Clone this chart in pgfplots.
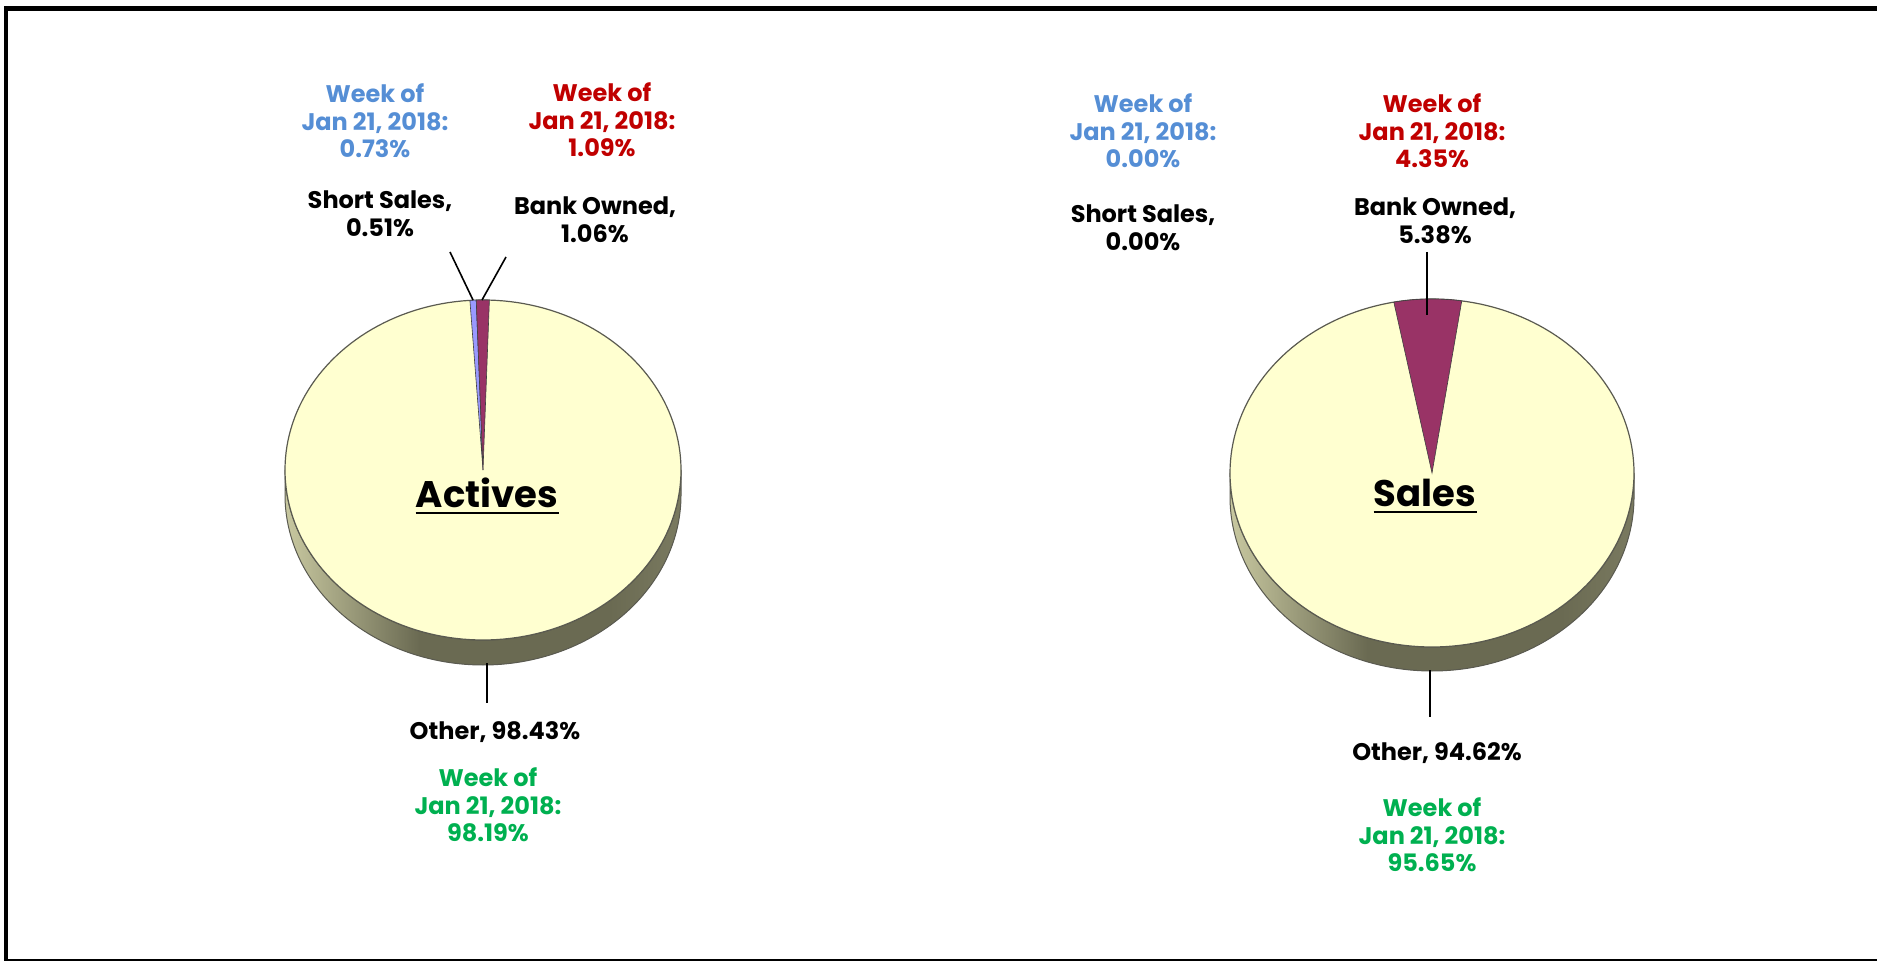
\documentclass[border=0pt]{standalone}
\usepackage{pgfplots}
\usepackage{pgfplotstable}
\pgfplotsset{compat=1.18}
\usepackage{fontspec}
\setmainfont{Poppins}
\definecolor{wkblue}{RGB}{85,142,213}
\definecolor{wkred}{RGB}{192,0,0}
\definecolor{wkgreen}{RGB}{0,176,80}
\definecolor{ssfill}{RGB}{153,153,255}
\definecolor{bofill}{RGB}{153,51,102}
\definecolor{topY}{RGB}{255,255,208}
\definecolor{sideL}{RGB}{200,200,160}
\definecolor{sideM}{RGB}{106,106,82}
\definecolor{sideR}{RGB}{122,122,96}
\definecolor{rim}{RGB}{90,90,80}
\pgfdeclarehorizontalshading{pieside}{100bp}{color(0bp)=(sideL); color(25bp)=(sideL); color(42bp)=(sideM); color(66bp)=(sideM); color(75bp)=(sideR); color(100bp)=(sideR)}

\pgfplotstableread{
cat value
ShortSales 0.51
BankOwned 1.06
Other 98.43
}\activestab
\pgfplotstableread{
cat value
ShortSales 0.00
BankOwned 5.38
Other 94.62
}\salestab

\begin{document}%
\begin{tikzpicture}
\pgfplotstablegetelem{0}{value}\of\activestab \let\aSS\pgfplotsretval
\pgfplotstablegetelem{1}{value}\of\activestab \let\aBO\pgfplotsretval
\pgfplotstablegetelem{0}{value}\of\salestab \let\sSS\pgfplotsretval
\pgfplotstablegetelem{1}{value}\of\salestab \let\sBO\pgfplotsretval
% start angles (clockwise from 12 o'clock)
\pgfmathsetmacro{\aA}{-3.8}
\pgfmathsetmacro{\aB}{\aA+\aSS*3.6}
\pgfmathsetmacro{\aC}{\aB+\aBO*3.6}
\pgfmathsetmacro{\sA}{-10.9}
\pgfmathsetmacro{\sB}{\sA+\sSS*3.6}
\pgfmathsetmacro{\sC}{\sB+\sBO*3.6}
\begin{axis}[width=938.5pt,height=480.5pt,scale only axis,
  xmin=0,xmax=1877,ymin=0,ymax=961,y dir=reverse,
  hide axis, xtick=\empty, ytick=\empty, clip=false]

% frame
\draw[line width=2.2pt] (axis cs:6.2,961) -- (axis cs:6.2,8.5) -- (axis cs:1877,8.5);
\draw[line width=1pt] (axis cs:4,959.8) -- (axis cs:1877,959.8);

% ---------- Actives pie ----------
\addplot[shading=pieside, draw=rim, line width=0.5pt,
  domain=90:450, samples=361, variable=\t]
  ({483+198*sin(\t)},{470+170*abs(cos(\t))+25*(\t>270.5)}) -- cycle;
\addplot[fill=topY, draw=rim, line width=0.6pt, domain=0:360, samples=181, variable=\t]
  ({483+198*sin(\t)},{470-170*cos(\t)}) -- cycle;
\addplot[fill=ssfill, draw=black!75, line width=0.3pt, domain=\aA:\aB, samples=4, variable=\t]
  ({483+198*sin(\t)},{470-170*cos(\t)}) -- (axis cs:483,470) -- cycle;
\addplot[fill=bofill, draw=black!75, line width=0.3pt, domain=\aB:\aC, samples=5, variable=\t]
  ({483+198*sin(\t)},{470-170*cos(\t)}) -- (axis cs:483,470) -- cycle;

% ---------- Sales pie ----------
\addplot[shading=pieside, draw=rim, line width=0.5pt,
  domain=90:450, samples=361, variable=\t]
  ({1432+202*sin(\t)},{473+174*abs(cos(\t))+24*(\t>270.5)}) -- cycle;
\addplot[fill=topY, draw=rim, line width=0.6pt, domain=0:360, samples=181, variable=\t]
  ({1432+202*sin(\t)},{473-174*cos(\t)}) -- cycle;
\addplot[fill=bofill, draw=black!75, line width=0.3pt, domain=\sB:\sC, samples=12, variable=\t]
  ({1432+202*sin(\t)},{473-174*cos(\t)}) -- (axis cs:1432,473) -- cycle;

% leader lines
\draw[line width=0.8pt] (axis cs:450,252) -- (axis cs:473,300);
\draw[line width=0.8pt] (axis cs:506,257) -- (axis cs:482,300);
\draw[line width=0.8pt] (axis cs:487,663) -- (axis cs:487,703);
\draw[line width=0.8pt] (axis cs:1427,252) -- (axis cs:1427,315);
\draw[line width=0.8pt] (axis cs:1430,670) -- (axis cs:1430,717);

% labels
\tikzset{lab/.style={align=center, font=\bfseries\fontsize{12}{13.8}\selectfont},
  ttl/.style={anchor=base, inner xsep=0pt, font=\bfseries\fontsize{18.5}{22}\selectfont}}
\node[lab, text=wkblue] at (axis cs:375,121) {Week of\\Jan 21, 2018:\\0.73\%};
\node[lab, text=wkred] at (axis cs:602,120) {Week of\\Jan 21, 2018:\\1.09\%};
\node[lab] at (axis cs:380,214) {Short Sales,\\0.51\%};
\node[lab] at (axis cs:595,220) {Bank Owned,\\1.06\%};
\node[lab] at (axis cs:495,732) {Other, 98.43\%};
\node[lab, text=wkgreen] at (axis cs:488,805) {Week of\\Jan 21, 2018:\\98.19\%};
\node[ttl] (ta) at (axis cs:487,508) {Actives};
\draw[line width=0.9pt] ([yshift=-2.4pt]ta.base west) -- ([yshift=-2.4pt]ta.base east);

\node[lab, text=wkblue] at (axis cs:1143,131) {Week of\\Jan 21, 2018:\\0.00\%};
\node[lab, text=wkred] at (axis cs:1432,131) {Week of\\Jan 21, 2018:\\4.35\%};
\node[lab] at (axis cs:1143,228) {Short Sales,\\0.00\%};
\node[lab] at (axis cs:1435,221) {Bank Owned,\\5.38\%};
\node[lab] at (axis cs:1437,753) {Other, 94.62\%};
\node[lab, text=wkgreen] at (axis cs:1432,835) {Week of\\Jan 21, 2018:\\95.65\%};
\node[ttl] (ts) at (axis cs:1425,507) {Sales};
\draw[line width=0.9pt] ([yshift=-2.4pt]ts.base west) -- ([yshift=-2.4pt]ts.base east);
\end{axis}
\pgfresetboundingbox
\path (current axis.south west) rectangle (current axis.north east);
\end{tikzpicture}%
\end{document}
